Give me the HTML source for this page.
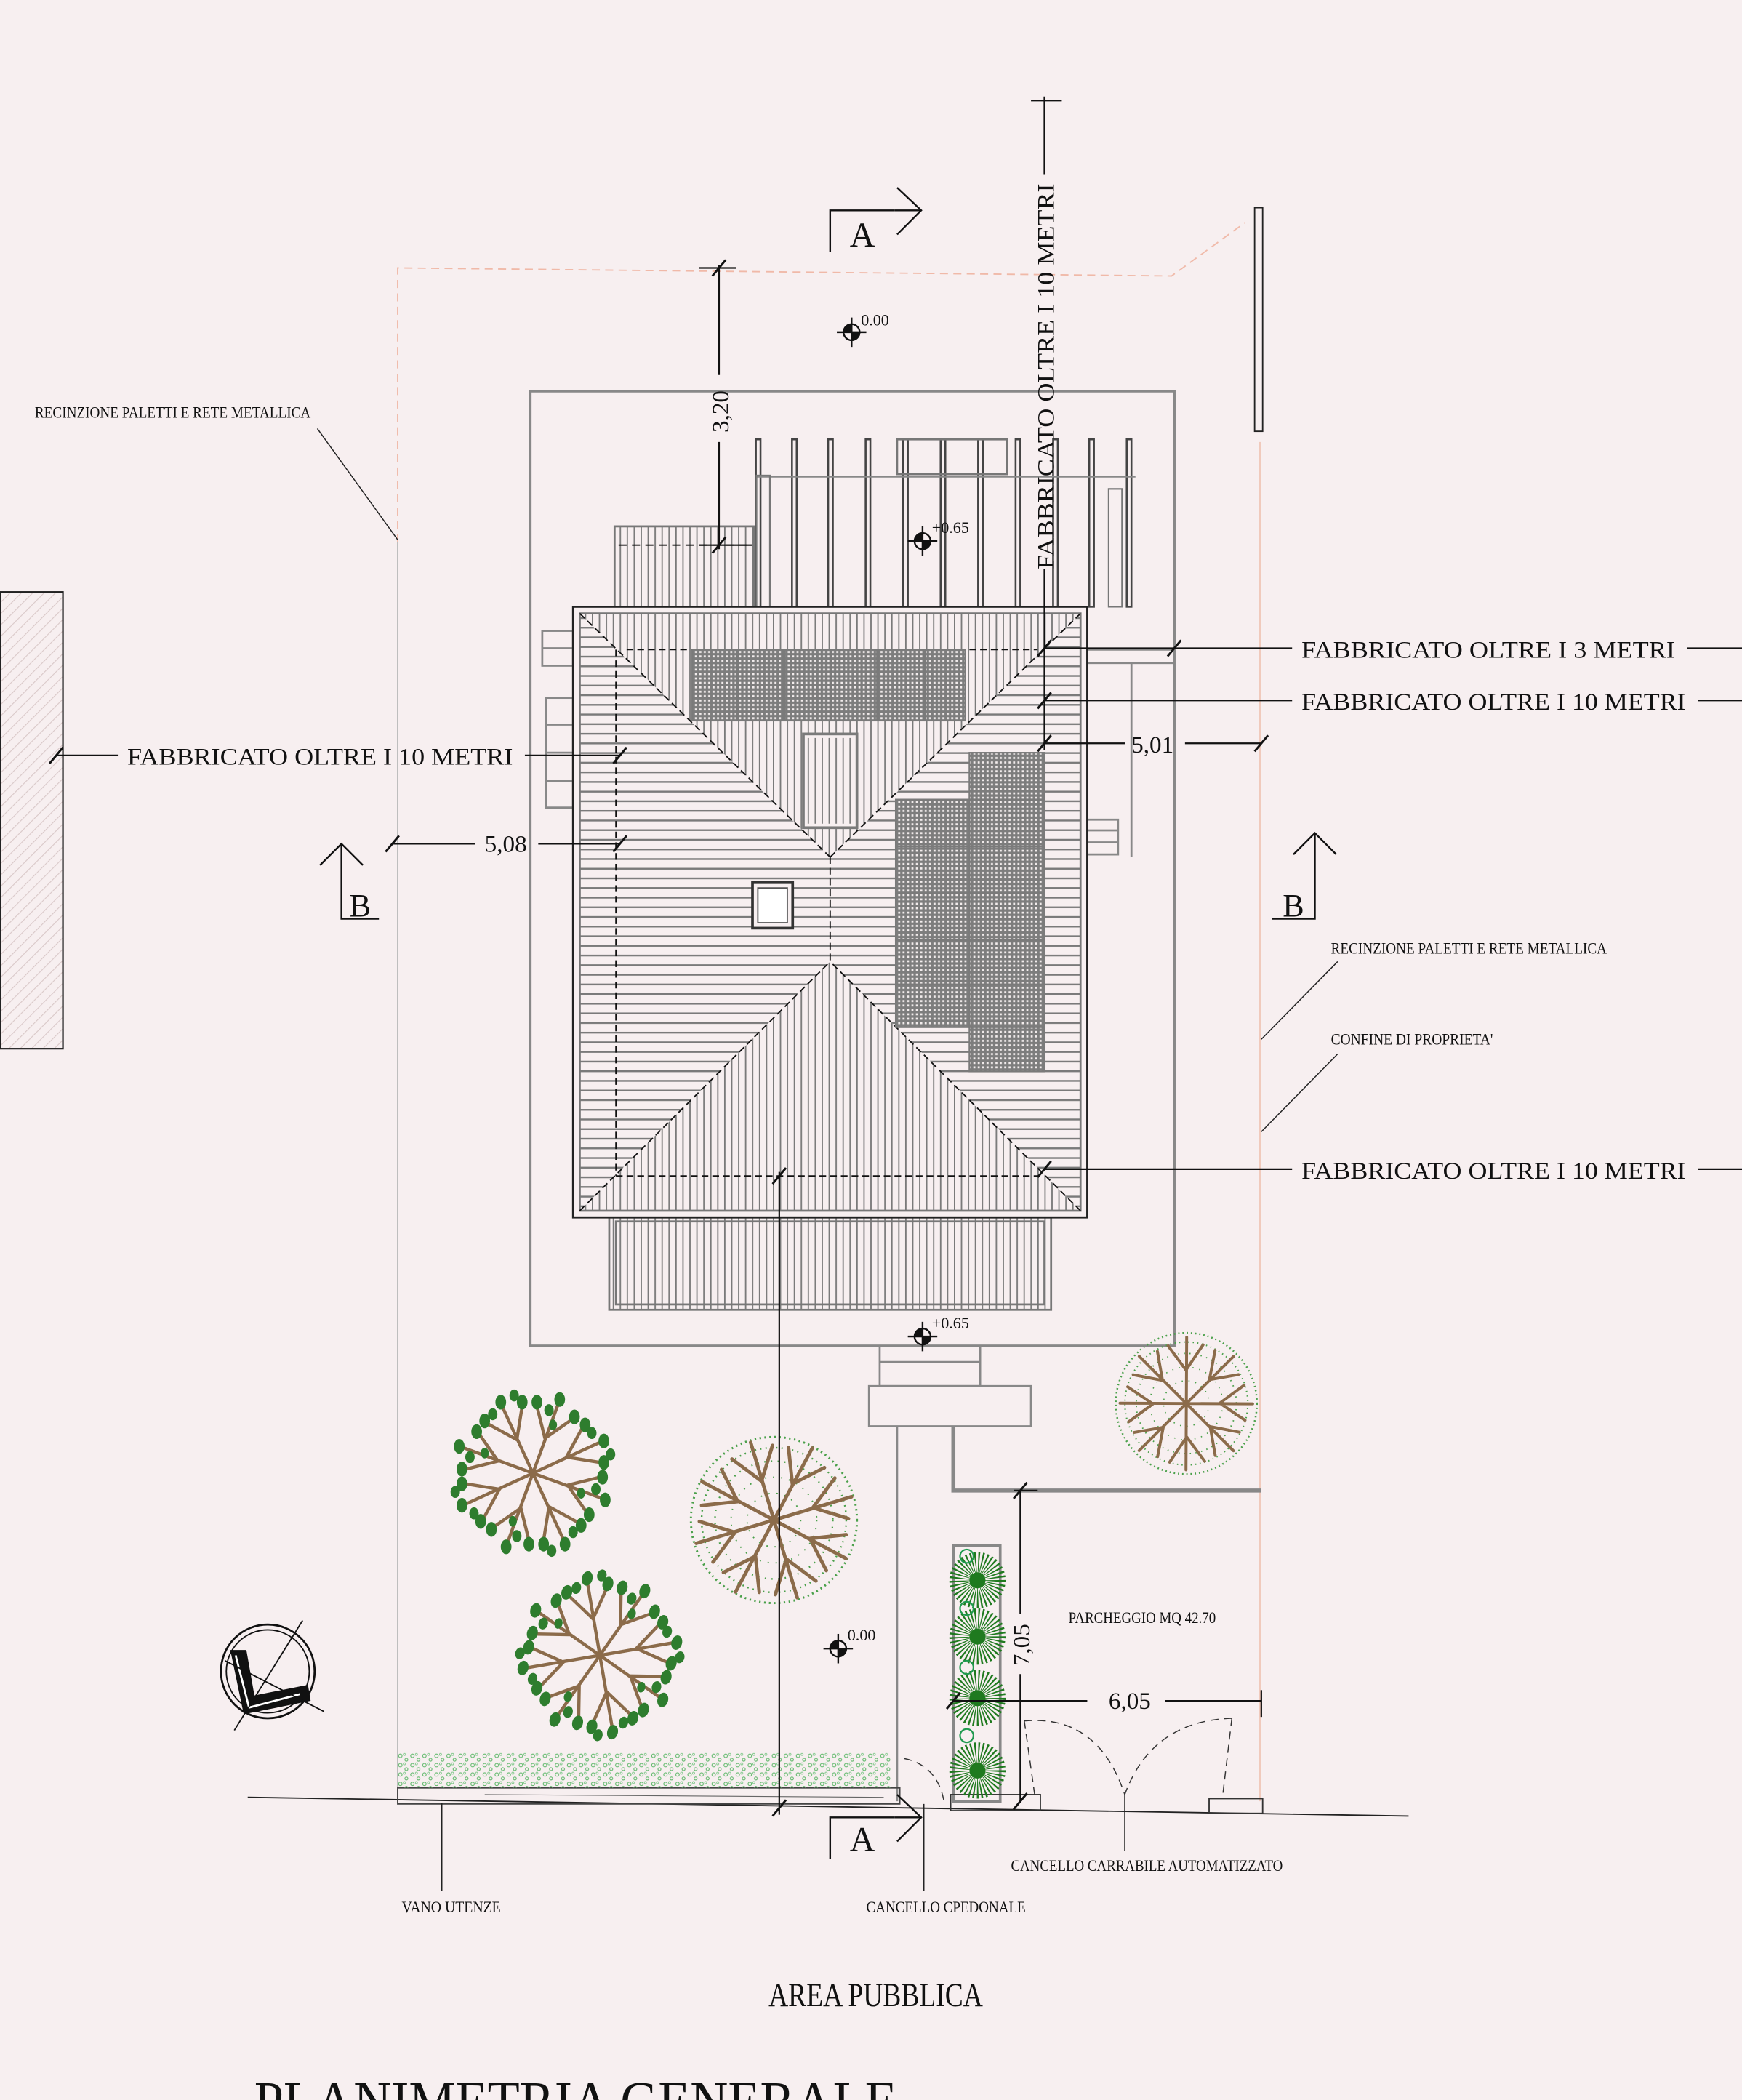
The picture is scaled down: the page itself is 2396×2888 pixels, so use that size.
<!DOCTYPE html>
<html><head><meta charset="utf-8"><style>
html,body{margin:0;padding:0;background:#f7eff0;}
svg{display:block}
text{font-family:"Liberation Serif",serif;fill:#111}
</style></head><body>
<svg width="2396" height="2888" viewBox="0 0 1301 1568" xmlns="http://www.w3.org/2000/svg">
<defs>
<pattern id="hz" width="10" height="7.2" patternUnits="userSpaceOnUse"><rect width="10" height="1.3" fill="#7a7a7a"/></pattern>
<pattern id="vt" width="5.2" height="10" patternUnits="userSpaceOnUse"><rect width="1" height="10" fill="#7a7a7a"/></pattern>
<pattern id="pv" width="3.3" height="3.3" patternUnits="userSpaceOnUse"><rect width="3.3" height="3.3" fill="#7d7d7d"/><rect x="0.9" y="0.9" width="1.5" height="1.5" fill="#f3eded"/></pattern>
<pattern id="dh" width="6" height="6" patternUnits="userSpaceOnUse" patternTransform="rotate(45)"><rect width="0.6" height="6" fill="#d9c8c8"/></pattern>
<pattern id="hd" width="9" height="7" patternUnits="userSpaceOnUse"><circle cx="2" cy="2" r="1.3" fill="none" stroke="#5fb86a" stroke-width="0.6"/><circle cx="6.5" cy="5" r="1.1" fill="none" stroke="#5fb86a" stroke-width="0.6"/><circle cx="5" cy="1" r="0.8" fill="none" stroke="#7fc88a" stroke-width="0.5"/></pattern>
<clipPath id="roof"><rect x="433" y="458" width="374" height="446"/></clipPath>
<g id="br" stroke="#8b6b4a" stroke-width="2.4" stroke-linecap="round" fill="none">
<path d="M0,0L52,19M26,9L40,29M26,9L50,3 M0,0L23,50M12,25L8,50M12,25L34,37 M0,0L-19,52M-9,26L-29,40M-9,26L-3,50 M0,0L-50,23M-25,12L-50,8M-25,12L-37,34 M0,0L-52,-19M-26,-9L-40,-29M-26,-9L-50,-3 M0,0L-23,-50M-12,-25L-8,-50M-12,-25L-34,-37 M0,0L19,-52M9,-26L29,-40M9,-26L3,-50 M0,0L50,-23M25,-12L50,-8M25,-12L37,-34"/>
</g>
<g id="lf" fill="#2e7d2e">
<ellipse cx="54" cy="20" rx="4" ry="5.5"/><ellipse cx="42" cy="31" rx="4" ry="5.5"/><ellipse cx="52" cy="3" rx="4" ry="5.5"/>
<ellipse cx="24" cy="53" rx="4" ry="5.5"/><ellipse cx="8" cy="53" rx="4" ry="5.5"/><ellipse cx="36" cy="39" rx="4" ry="5.5"/>
<ellipse cx="-20" cy="55" rx="4" ry="5.5"/><ellipse cx="-31" cy="42" rx="4" ry="5.5"/><ellipse cx="-3" cy="53" rx="4" ry="5.5"/>
<ellipse cx="-53" cy="24" rx="4" ry="5.5"/><ellipse cx="-53" cy="8" rx="4" ry="5.5"/><ellipse cx="-39" cy="36" rx="4" ry="5.5"/>
<ellipse cx="-55" cy="-20" rx="4" ry="5.5"/><ellipse cx="-42" cy="-31" rx="4" ry="5.5"/><ellipse cx="-53" cy="-3" rx="4" ry="5.5"/>
<ellipse cx="-24" cy="-53" rx="4" ry="5.5"/><ellipse cx="-8" cy="-53" rx="4" ry="5.5"/><ellipse cx="-36" cy="-39" rx="4" ry="5.5"/>
<ellipse cx="20" cy="-55" rx="4" ry="5.5"/><ellipse cx="31" cy="-42" rx="4" ry="5.5"/><ellipse cx="3" cy="-53" rx="4" ry="5.5"/>
<ellipse cx="53" cy="-24" rx="4" ry="5.5"/><ellipse cx="53" cy="-8" rx="4" ry="5.5"/><ellipse cx="39" cy="-36" rx="4" ry="5.5"/>
<ellipse cx="47" cy="12" rx="3.5" ry="4.5"/><ellipse cx="30" cy="44" rx="3.5" ry="4.5"/><ellipse cx="-12" cy="47" rx="3.5" ry="4.5"/><ellipse cx="-44" cy="30" rx="3.5" ry="4.5"/>
<ellipse cx="-47" cy="-12" rx="3.5" ry="4.5"/><ellipse cx="-30" cy="-44" rx="3.5" ry="4.5"/><ellipse cx="12" cy="-47" rx="3.5" ry="4.5"/><ellipse cx="44" cy="-30" rx="3.5" ry="4.5"/>
<ellipse cx="58" cy="-14" rx="3.5" ry="4.5"/><ellipse cx="-58" cy="14" rx="3.5" ry="4.5"/><ellipse cx="14" cy="58" rx="3.5" ry="4.5"/><ellipse cx="-14" cy="-58" rx="3.5" ry="4.5"/>
<ellipse cx="36" cy="15" rx="3" ry="4"/><ellipse cx="-36" cy="-15" rx="3" ry="4"/><ellipse cx="15" cy="-36" rx="3" ry="4"/><ellipse cx="-15" cy="36" rx="3" ry="4"/>
</g>
<g id="lt" fill="none" stroke="#4aa04a">
<circle r="62" stroke-width="1.6" stroke-dasharray="1.2,2.5"/>
<circle r="54" stroke-width="1.3" stroke-dasharray="1,3"/>
<circle r="44" stroke-width="1.2" stroke-dasharray="1,4"/>
<circle r="32" stroke-width="1" stroke-dasharray="1,5"/>
<circle r="20" stroke-width="1" stroke-dasharray="1,5"/>
</g>
<g id="bush">
<circle r="13" fill="none" stroke="#1f7a1f" stroke-width="16" stroke-dasharray="0.9,1.3"/>
<circle r="6" fill="#1f7a1f"/>
</g>
</defs>
<rect width="1301" height="1568" fill="#f7eff0"/>

<rect x="0" y="442" width="47" height="341" fill="url(#dh)" stroke="#222" stroke-width="1.2"/>

<polyline points="297,405 297,200 875,206 930,166" fill="none" stroke="#f0b9a8" stroke-width="1" stroke-dasharray="6,4"/>
<line x1="297" y1="405" x2="297" y2="1335" stroke="#bbb" stroke-width="1"/>
<line x1="941" y1="330" x2="941" y2="1345" stroke="#f0c7b8" stroke-width="1"/>
<rect x="937" y="155" width="6" height="167" fill="none" stroke="#222" stroke-width="1"/>

<rect x="396" y="292" width="481" height="713" fill="none" stroke="#888" stroke-width="2"/>

<g fill="none" stroke="#444" stroke-width="1.4">
<rect x="564.5" y="328" width="3.5" height="125"/><rect x="591.5" y="328" width="3.5" height="125"/><rect x="618.5" y="328" width="3.5" height="125"/><rect x="646.5" y="328" width="3.5" height="125"/><rect x="674.5" y="328" width="3.5" height="125"/><rect x="702.5" y="328" width="3.5" height="125"/><rect x="730.5" y="328" width="3.5" height="125"/><rect x="758.5" y="328" width="3.5" height="125"/><rect x="786.5" y="328" width="3.5" height="125"/><rect x="813.5" y="328" width="3.5" height="125"/><rect x="841.5" y="328" width="3.5" height="125"/>
</g>
<rect x="670" y="328" width="82" height="26" fill="none" stroke="#777" stroke-width="1.5"/>
<line x1="565" y1="356" x2="848" y2="356" stroke="#888" stroke-width="1"/>
<rect x="565" y="355" width="10" height="98" fill="none" stroke="#777" stroke-width="1.2"/>
<rect x="828" y="365" width="10" height="88" fill="none" stroke="#777" stroke-width="1.2"/>

<rect x="459" y="393" width="104" height="60" fill="url(#vt)" stroke="#777" stroke-width="1.5"/>
<line x1="462" y1="407" x2="560" y2="407" stroke="#111" stroke-dasharray="6,4"/>

<g fill="none" stroke="#888" stroke-width="1.5">
<rect x="405" y="471" width="23" height="26"/><line x1="405" y1="484" x2="428" y2="484"/>
<rect x="408" y="521" width="20" height="82"/>
<line x1="408" y1="541" x2="428" y2="541"/><line x1="408" y1="562" x2="428" y2="562"/><line x1="408" y1="583" x2="428" y2="583"/>
<rect x="812" y="485" width="65" height="10"/>
<line x1="845" y1="495" x2="845" y2="640"/>
<rect x="812" y="612" width="23" height="26"/><line x1="812" y1="620" x2="835" y2="620"/><line x1="812" y1="629" x2="835" y2="629"/>
</g>

<rect x="455" y="909" width="330" height="69" fill="url(#vt)" stroke="#777" stroke-width="1.5"/>
<rect x="460" y="912" width="320" height="62" fill="none" stroke="#777" stroke-width="1.5"/>

<rect x="428" y="453" width="384" height="456" fill="#f7eff0" stroke="#222" stroke-width="1.5"/>
<g clip-path="url(#roof)">
<rect x="433" y="458" width="374" height="446" fill="url(#hz)"/>
<polygon points="433,458 807,458 620,640" fill="#f7eff0"/>
<polygon points="433,458 807,458 620,640" fill="url(#vt)"/>
<polygon points="433,904 807,904 620,718" fill="#f7eff0"/>
<polygon points="433,904 807,904 620,718" fill="url(#vt)"/>
</g>
<rect x="433" y="458" width="374" height="446" fill="none" stroke="#777" stroke-width="1.5"/>
<g stroke="#111" stroke-width="1" stroke-dasharray="5,3" fill="none">
<line x1="433" y1="458" x2="620" y2="640"/><line x1="807" y1="458" x2="620" y2="640"/>
<line x1="433" y1="904" x2="620" y2="718"/><line x1="807" y1="904" x2="620" y2="718"/>
<line x1="620" y1="640" x2="620" y2="718"/>
<line x1="468" y1="485" x2="775" y2="485"/>
<line x1="460" y1="485" x2="460" y2="878"/>
<line x1="460" y1="878" x2="780" y2="878"/>
</g>
<g fill="url(#pv)" stroke="#7a7a7a" stroke-width="1.2">
<rect x="517" y="485" width="33" height="53"/><rect x="551" y="485" width="34" height="53"/><rect x="586" y="485" width="34" height="53"/><rect x="621" y="485" width="34" height="53"/><rect x="656" y="485" width="34" height="53"/><rect x="691" y="485" width="30" height="53"/>
<rect x="724" y="562" width="56" height="35"/>
<rect x="669" y="597" width="55" height="35"/><rect x="724" y="597" width="56" height="35"/>
<rect x="669" y="632" width="55" height="35"/><rect x="724" y="632" width="56" height="35"/>
<rect x="669" y="667" width="55" height="35"/><rect x="724" y="667" width="56" height="35"/>
<rect x="669" y="702" width="55" height="33"/><rect x="724" y="702" width="56" height="33"/>
<rect x="669" y="735" width="55" height="32"/><rect x="724" y="735" width="56" height="32"/>
<rect x="724" y="767" width="56" height="33"/>
</g>
<rect x="600" y="548" width="40" height="70" fill="#f7eff0" stroke="#7a7a7a" stroke-width="2"/>
<rect x="603" y="551" width="34" height="64" fill="url(#vt)"/>
<rect x="562" y="659" width="30" height="34" fill="#f7eff0" stroke="#333" stroke-width="2"/>
<rect x="566" y="663" width="22" height="26" fill="#fff" stroke="#555" stroke-width="1"/>

<g fill="none" stroke="#888" stroke-width="1.5">
<rect x="657" y="1005" width="75" height="30"/><line x1="657" y1="1017" x2="732" y2="1017"/>
<rect x="649" y="1035" width="121" height="30"/>
<line x1="670" y1="1065" x2="670" y2="1345"/>
</g>
<polyline points="712,1065 712,1113 942,1113" fill="none" stroke="#888" stroke-width="3"/>
<rect x="712" y="1154" width="35" height="191" fill="none" stroke="#888" stroke-width="2"/>

<line x1="185" y1="1342" x2="1052" y2="1356" stroke="#222" stroke-width="1"/>
<rect x="297" y="1335" width="375" height="12" fill="none" stroke="#444" stroke-width="1"/>
<line x1="362" y1="1340" x2="660" y2="1342" stroke="#666" stroke-width="0.6"/>
<rect x="710" y="1340" width="67" height="12" fill="none" stroke="#333" stroke-width="1"/>
<rect x="903" y="1343" width="40" height="11" fill="none" stroke="#333" stroke-width="1"/>
<g fill="none" stroke="#333" stroke-width="0.8" stroke-dasharray="6,4">
<path d="M675,1313 Q700,1318 705,1345"/>
<path d="M765,1285 Q820,1280 840,1340"/><path d="M920,1283 Q860,1285 840,1340"/>
<line x1="765" y1="1285" x2="773" y2="1342"/><line x1="920" y1="1283" x2="913" y2="1342"/>
</g>

<rect x="297" y="1308" width="368" height="27" fill="url(#hd)"/>

<use href="#br" transform="translate(398,1100)"/><use href="#lf" transform="translate(398,1100)"/>
<use href="#br" transform="translate(448,1236) rotate(15)"/><use href="#lf" transform="translate(448,1236) rotate(15)"/>
<use href="#lt" transform="translate(578,1135)"/><use href="#br" transform="translate(578,1135) rotate(8) scale(1.1)"/>
<use href="#lt" transform="translate(886,1048) scale(0.85)"/><use href="#br" transform="translate(886,1048) rotate(25) scale(0.9)"/>
<use href="#bush" transform="translate(730,1180)"/><use href="#bush" transform="translate(730,1222)"/><use href="#bush" transform="translate(730,1268)"/><use href="#bush" transform="translate(730,1322)"/>
<g fill="none" stroke="#1f9a4f" stroke-width="1.2"><circle cx="722" cy="1162" r="5"/><circle cx="722" cy="1201" r="5"/><circle cx="722" cy="1245" r="5"/><circle cx="722" cy="1296" r="5"/></g>

<circle cx="200" cy="1248" r="35" fill="none" stroke="#111" stroke-width="1.5"/>
<circle cx="200" cy="1248" r="31" fill="none" stroke="#111" stroke-width="1"/>
<polygon points="172,1232 184,1232 190,1266 230,1258 232,1270 182,1280" fill="#111"/>
<polyline points="176,1236 186,1275 224,1265" fill="none" stroke="#fff" stroke-width="1.5"/>
<line x1="175" y1="1292" x2="226" y2="1210" stroke="#111"/>
<line x1="168" y1="1240" x2="242" y2="1278" stroke="#111"/>

<g stroke="#111" stroke-width="1.3">
<circle cx="636" cy="248" r="6" fill="#f7eff0"/><line x1="625" y1="248" x2="647" y2="248"/><line x1="636" y1="237" x2="636" y2="259"/>
<circle cx="689" cy="404" r="6" fill="#f7eff0"/><line x1="678" y1="404" x2="700" y2="404"/><line x1="689" y1="393" x2="689" y2="415"/>
<circle cx="689" cy="998" r="6" fill="#f7eff0"/><line x1="678" y1="998" x2="700" y2="998"/><line x1="689" y1="987" x2="689" y2="1009"/>
<circle cx="626" cy="1231" r="6" fill="#f7eff0"/><line x1="615" y1="1231" x2="637" y2="1231"/><line x1="626" y1="1220" x2="626" y2="1242"/>
</g>
<g fill="#111">
<path d="M636,248h6a6,6 0 0,1 -6,6zM636,248h-6a6,6 0 0,1 6,-6z"/>
<path d="M689,404h6a6,6 0 0,1 -6,6zM689,404h-6a6,6 0 0,1 6,-6z"/>
<path d="M689,998h6a6,6 0 0,1 -6,6zM689,998h-6a6,6 0 0,1 6,-6z"/>
<path d="M626,1231h6a6,6 0 0,1 -6,6zM626,1231h-6a6,6 0 0,1 6,-6z"/>
</g>
<g font-size="12">
<text x="643" y="243">0.00</text><text x="696" y="398">+0.65</text><text x="696" y="992">+0.65</text><text x="633" y="1225">0.00</text>
</g>

<g stroke="#111" stroke-width="1.2" fill="none">
<line x1="537" y1="198" x2="537" y2="280"/><line x1="537" y1="330" x2="537" y2="410"/>
<line x1="522" y1="200" x2="550" y2="200"/><line x1="522" y1="407" x2="562" y2="407"/>
<line x1="780" y1="72" x2="780" y2="130"/><line x1="770" y1="75" x2="793" y2="75"/>
<line x1="780" y1="425" x2="780" y2="560"/>
<line x1="780" y1="484" x2="965" y2="484"/><line x1="1260" y1="484" x2="1301" y2="484"/>
<line x1="780" y1="523" x2="965" y2="523"/><line x1="1268" y1="523" x2="1301" y2="523"/>
<line x1="780" y1="555" x2="840" y2="555"/><line x1="885" y1="555" x2="942" y2="555"/>
<line x1="42" y1="564" x2="88" y2="564"/><line x1="392" y1="564" x2="463" y2="564"/>
<line x1="293" y1="630" x2="355" y2="630"/><line x1="402" y1="630" x2="463" y2="630"/>
<line x1="780" y1="873" x2="965" y2="873"/><line x1="1268" y1="873" x2="1301" y2="873"/>
<line x1="582" y1="875" x2="582" y2="1355"/>
<line x1="762" y1="1113" x2="762" y2="1205"/><line x1="762" y1="1250" x2="762" y2="1345"/>
<line x1="757" y1="1113" x2="775" y2="1113"/>
<line x1="712" y1="1270" x2="812" y2="1270"/><line x1="870" y1="1270" x2="942" y2="1270"/>
<line x1="942" y1="1262" x2="942" y2="1282"/>
</g>
<g stroke="#111" stroke-width="1.6">
<line x1="532" y1="206" x2="542" y2="194"/><line x1="532" y1="413" x2="542" y2="401"/>
<line x1="775" y1="490" x2="785" y2="478"/><line x1="872" y1="490" x2="882" y2="478"/>
<line x1="775" y1="529" x2="785" y2="517"/><line x1="775" y1="561" x2="785" y2="549"/><line x1="937" y1="561" x2="947" y2="549"/>
<line x1="37" y1="570" x2="47" y2="558"/><line x1="458" y1="570" x2="468" y2="558"/>
<line x1="288" y1="636" x2="298" y2="624"/><line x1="458" y1="636" x2="468" y2="624"/>
<line x1="775" y1="879" x2="785" y2="867"/><line x1="577" y1="884" x2="587" y2="872"/><line x1="577" y1="1356" x2="587" y2="1344"/>
<line x1="757" y1="1119" x2="767" y2="1107"/><line x1="757" y1="1351" x2="767" y2="1339"/><line x1="707" y1="1276" x2="717" y2="1264"/>
</g>

<g stroke="#111" stroke-width="1.3" fill="none">
<polyline points="620,188 620,157 668,157"/><polyline points="670,140 688,157 670,175"/><line x1="668" y1="157" x2="688" y2="157"/>
<polyline points="620,1388 620,1357 668,1357"/><polyline points="670,1340 688,1357 670,1375"/><line x1="668" y1="1357" x2="688" y2="1357"/>
<polyline points="283,686 255,686 255,630"/><polyline points="239,646 255,630 271,646"/>
<polyline points="950,686 982,686 982,622"/><polyline points="966,638 982,622 998,638"/>
</g>
<text x="644" y="184" font-size="26" text-anchor="middle">A</text>
<text x="644" y="1382" font-size="26" text-anchor="middle">A</text>
<text x="269" y="684" font-size="24" text-anchor="middle">B</text>
<text x="966" y="684" font-size="24" text-anchor="middle">B</text>

<g font-size="18">
<text x="972" y="491" textLength="279" lengthAdjust="spacingAndGlyphs">FABBRICATO OLTRE I 3 METRI</text>
<text x="972" y="530" textLength="287" lengthAdjust="spacingAndGlyphs">FABBRICATO OLTRE I 10 METRI</text>
<text x="95" y="571" textLength="288" lengthAdjust="spacingAndGlyphs">FABBRICATO OLTRE I 10 METRI</text>
<text x="972" y="880" textLength="287" lengthAdjust="spacingAndGlyphs">FABBRICATO OLTRE I 10 METRI</text>
<text transform="translate(787,425) rotate(-90)" textLength="288" lengthAdjust="spacingAndGlyphs">FABBRICATO OLTRE I 10 METRI</text>
<text x="845" y="562">5,01</text>
<text x="362" y="636">5,08</text>
<text transform="translate(544,323) rotate(-90)">3,20</text>
<text transform="translate(769,1244) rotate(-90)">7,05</text>
<text x="828" y="1276">6,05</text>
</g>
<g font-size="12">
<text x="26" y="312" textLength="206" lengthAdjust="spacingAndGlyphs">RECINZIONE PALETTI E RETE METALLICA</text>
<text x="994" y="712" textLength="206" lengthAdjust="spacingAndGlyphs">RECINZIONE PALETTI E RETE METALLICA</text>
<text x="994" y="780" textLength="121" lengthAdjust="spacingAndGlyphs">CONFINE DI PROPRIETA'</text>
<text x="798" y="1212" textLength="110" lengthAdjust="spacingAndGlyphs">PARCHEGGIO MQ 42.70</text>
<text x="755" y="1397" textLength="203" lengthAdjust="spacingAndGlyphs">CANCELLO CARRABILE AUTOMATIZZATO</text>
<text x="300" y="1428" textLength="74" lengthAdjust="spacingAndGlyphs">VANO UTENZE</text>
<text x="647" y="1428" textLength="119" lengthAdjust="spacingAndGlyphs">CANCELLO CPEDONALE</text>
</g>
<g stroke="#222" stroke-width="0.8">
<line x1="237" y1="320" x2="297" y2="403"/>
<line x1="999" y1="718" x2="942" y2="776"/>
<line x1="999" y1="787" x2="942" y2="845"/>
<line x1="330" y1="1346" x2="330" y2="1412"/>
<line x1="690" y1="1347" x2="690" y2="1412"/>
<line x1="840" y1="1340" x2="840" y2="1382"/>
</g>
<text x="574" y="1498" font-size="25" textLength="160" lengthAdjust="spacingAndGlyphs">AREA  PUBBLICA</text>
<text x="190" y="1584" font-size="44" textLength="480" lengthAdjust="spacingAndGlyphs">PLANIMETRIA GENERALE</text>
</svg>
</body></html>
